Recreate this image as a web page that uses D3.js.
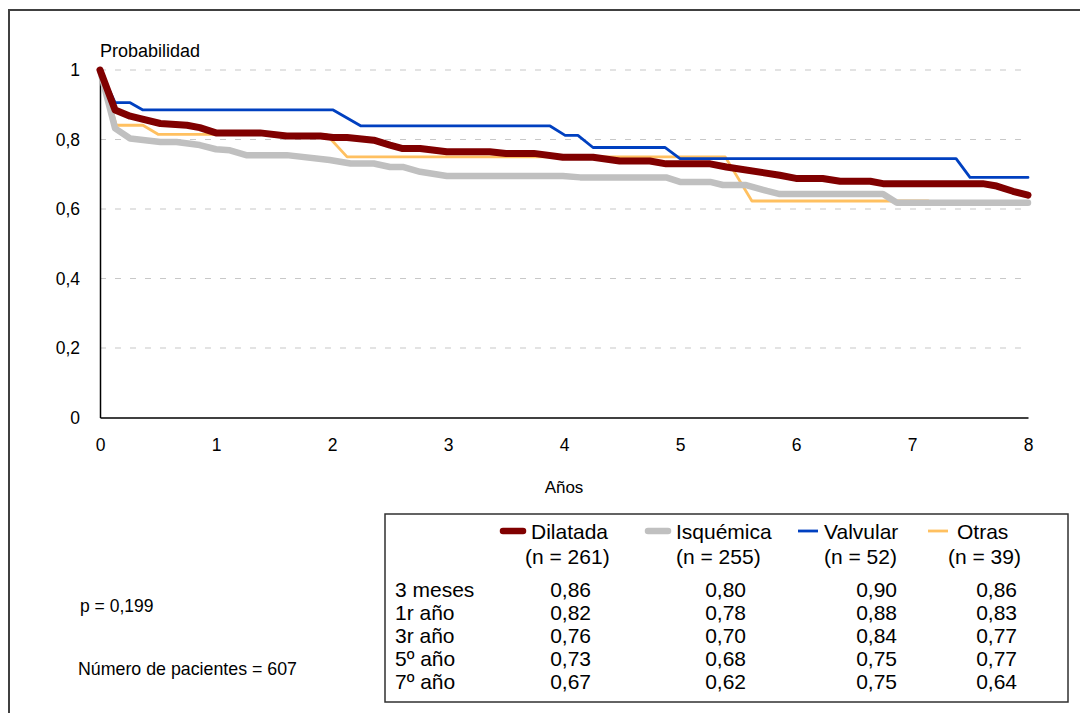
<!DOCTYPE html>
<html>
<head>
<meta charset="utf-8">
<script src="https://cdn.jsdelivr.net/npm/d3@7"></script>
<style>
  body { margin: 0; background: #fff; }
  svg { display: block; font-family: "Liberation Sans", Arial, sans-serif; }
</style>
</head>
<body>
<svg id="chart" width="1080" height="713"></svg>
<script>
// survival curves: [years, probability]
const dilatada = [[0,1],[0.13,0.885],[0.26,0.867],[0.52,0.846],[0.75,0.841],[0.86,0.834],[1.0,0.819],[1.38,0.819],[1.61,0.81],[1.9,0.81],[2.01,0.806],[2.13,0.806],[2.36,0.798],[2.5,0.784],[2.61,0.774],[2.76,0.774],[2.99,0.765],[3.36,0.765],[3.5,0.76],[3.74,0.76],[3.99,0.749],[4.25,0.749],[4.48,0.738],[4.74,0.738],[4.88,0.73],[5.26,0.73],[5.4,0.721],[5.86,0.697],[6.0,0.688],[6.23,0.688],[6.38,0.68],[6.64,0.68],[6.75,0.673],[7.61,0.673],[7.73,0.666],[7.87,0.651],[8.0,0.64]];
const isquemica = [[0,1],[0.13,0.832],[0.26,0.803],[0.52,0.793],[0.66,0.793],[0.86,0.784],[1.0,0.772],[1.12,0.769],[1.26,0.755],[1.61,0.755],[1.98,0.741],[2.16,0.731],[2.36,0.731],[2.5,0.721],[2.61,0.721],[2.76,0.707],[2.99,0.695],[3.99,0.695],[4.14,0.691],[4.88,0.691],[5.0,0.678],[5.26,0.678],[5.37,0.669],[5.57,0.669],[5.75,0.652],[5.86,0.643],[6.75,0.643],[6.87,0.618],[8.0,0.618]];
const valvular = [[0,1],[0.13,0.906],[0.26,0.906],[0.37,0.885],[2.01,0.885],[2.25,0.839],[3.88,0.839],[4.01,0.812],[4.12,0.812],[4.25,0.777],[4.87,0.777],[5.0,0.745],[7.38,0.745],[7.5,0.691],[8.0,0.691]];
const otras = [[0,1],[0.14,0.841],[0.37,0.841],[0.5,0.815],[1.95,0.815],[2.13,0.75],[5.39,0.75],[5.62,0.623],[7.14,0.623]];

const xTicks = [0,1,2,3,4,5,6,7,8];
const yTicks = [0,0.2,0.4,0.6,0.8,1];

// table under the chart
const groupNames = ["Dilatada","Isquémica","Valvular","Otras"];
const groupN = ["(n = 261)","(n = 255)","(n = 52)","(n = 39)"];
const rowLabels = ["3 meses","1r año","3r año","5º año","7º año"];
const dilatadaTab = ["0,86","0,82","0,76","0,73","0,67"];
const isquemicaTab = ["0,80","0,78","0,70","0,68","0,62"];
const valvularTab = ["0,90","0,88","0,84","0,75","0,75"];
const otrasTab = ["0,86","0,83","0,77","0,77","0,64"];

const series = [
  {name:"Otras", data: otras, color:"#FFC060", width:2.8},
  {name:"Isquémica", data: isquemica, color:"#C0C0C0", width:6.5},
  {name:"Valvular", data: valvular, color:"#0040C0", width:2.8},
  {name:"Dilatada", data: dilatada, color:"#800000", width:7}
];
const colorOf = d3.scaleOrdinal().domain(series.map(d => d.name)).range(series.map(d => d.color));
const widthOf = d3.scaleOrdinal().domain(series.map(d => d.name)).range(series.map(d => d.width));

const svg = d3.select("#chart");

// outer frame, runs off the right and bottom edges like the picture
svg.append("rect")
  .attr("x", 9).attr("y", 10)
  .attr("width", 1100).attr("height", 750)
  .attr("fill", "none").attr("stroke", "#404040").attr("stroke-width", 2);

const x = d3.scaleLinear().domain([0, 8]).range([100, 1028]);
const y = d3.scaleLinear().domain([0, 1]).range([417.5, 70]);

// dashed gridlines
svg.append("g")
  .selectAll("line")
  .data(yTicks.filter(d => d > 0))
  .join("line")
  .attr("x1", x(0)).attr("x2", x(8))
  .attr("y1", d => y(d)).attr("y2", d => y(d))
  .attr("stroke", "#c8c8c8").attr("stroke-width", 1.2)
  .attr("stroke-dasharray", "6,9");

const fmt = d => String(d).replace(".", ",");

var yAxis = svg.append("g")
  .attr("transform", `translate(${x(0)},0)`)
  .call(d3.axisLeft(y).tickValues(yTicks).tickSize(0).tickPadding(20).tickFormat(fmt))
  .call(g => g.select(".domain").attr("stroke", "#000").attr("stroke-width", 1.5))
  .call(g => g.selectAll(".tick text").attr("font-size", 17.5).attr("fill", "#000").attr("font-family", null));

var xAxis = svg.append("g")
  .attr("transform", `translate(0,${y(0)})`)
  .call(d3.axisBottom(x).tickValues(xTicks).tickSize(0).tickPadding(21).tickFormat(fmt))
  .call(g => g.select(".domain").attr("stroke", "#000").attr("stroke-width", 1.5))
  .call(g => g.selectAll(".tick text").attr("font-size", 17.5).attr("fill", "#000").attr("font-family", null));

svg.append("text")
  .attr("x", 100).attr("y", 57)
  .attr("font-size", 18)
  .text("Probabilidad");

svg.append("text")
  .attr("x", x(4)).attr("y", 493)
  .attr("text-anchor", "middle")
  .attr("font-size", 17)
  .text("Años");

// curves
const line = d3.line()
  .x(d => x(d[0]))
  .y(d => y(d[1]));

svg.append("g")
  .selectAll("path")
  .data(series)
  .join("path")
  .attr("d", d => line(d.data))
  .attr("fill", "none")
  .attr("stroke", d => colorOf(d.name))
  .attr("stroke-width", d => widthOf(d.name))
  .attr("stroke-linejoin", "round")
  .attr("stroke-linecap", "round");

// side notes
svg.append("text").attr("x", 80).attr("y", 612).attr("font-size", 17.5).text("p = 0,199");
svg.append("text").attr("x", 78).attr("y", 675).attr("font-size", 17.8).text("Número de pacientes = 607");

// table box
svg.append("rect")
  .attr("x", 385).attr("y", 514)
  .attr("width", 683).attr("height", 188)
  .attr("fill", "none").attr("stroke", "#303030").attr("stroke-width", 1.5);

const colX = [531, 676, 824, 957];      // left edge of header text
const nX = [525, 676, 824, 948];
const valRight = [591, 746, 897, 1017];
const swatch = [[503,523],[648,668],[798,818],[928,948]];
const tableCols = [dilatadaTab, isquemicaTab, valvularTab, otrasTab];
const legendOrder = ["Dilatada","Isquémica","Valvular","Otras"];

const tbl = svg.append("g").attr("font-size", 21);

tbl.selectAll("line.sw")
  .data(legendOrder)
  .join("line")
  .attr("class", "sw")
  .attr("x1", (d, i) => swatch[i][0]).attr("x2", (d, i) => swatch[i][1])
  .attr("y1", 531).attr("y2", 531)
  .attr("stroke", d => colorOf(d))
  .attr("stroke-width", d => widthOf(d) > 5 ? 6.5 : 2.8)
  .attr("stroke-linecap", d => widthOf(d) > 5 ? "round" : "butt");

tbl.selectAll("text.hd")
  .data(groupNames)
  .join("text")
  .attr("class", "hd")
  .attr("x", (d, i) => colX[i]).attr("y", 538.5)
  .text(d => d);

tbl.selectAll("text.nn")
  .data(groupN)
  .join("text")
  .attr("class", "nn")
  .attr("x", (d, i) => nX[i]).attr("y", 563.5)
  .text(d => d);

tbl.selectAll("text.rl")
  .data(rowLabels)
  .join("text")
  .attr("class", "rl")
  .attr("x", 395).attr("y", (d, i) => 596.5 + i * 23)
  .text(d => d);

tableCols.forEach((col, c) => {
  tbl.append("g").selectAll("text")
    .data(col)
    .join("text")
    .attr("x", valRight[c]).attr("y", (d, i) => 596.5 + i * 23)
    .attr("text-anchor", "end")
    .text(d => d);
});
</script>
</body>
</html>
